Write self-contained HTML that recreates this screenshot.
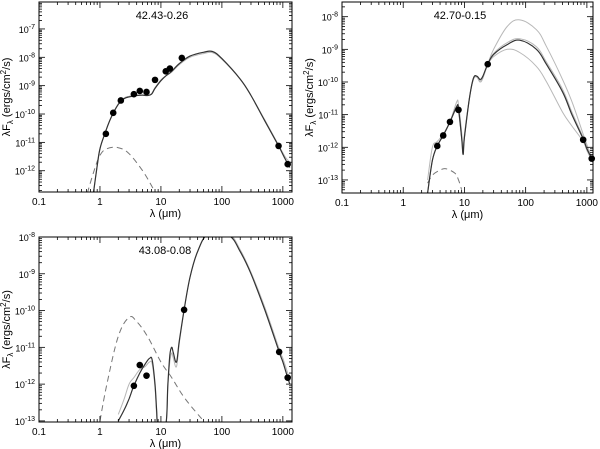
<!DOCTYPE html>
<html><head><meta charset="utf-8">
<style>
html,body{margin:0;padding:0;background:#fff;}
svg{display:block;font-family:"Liberation Sans",sans-serif;}
</style></head>
<body>
<svg id="c" width="600" height="449"></svg>
<script>
// ---------- Panel 1: 42.43-0.26 ----------
const p1PointWl = [1.25,1.65,2.2,3.6,4.5,5.8,8,12,14,22,850,1200];
const p1PointFlux = [2e-11,1.1e-10,3e-10,5e-10,6.5e-10,6e-10,1.6e-9,3.2e-9,4e-9,9.5e-9,7.5e-12,1.7e-12];
const p1ModelWl = [0.78,0.9,1.0,1.2,1.5,2,2.5,3,4,5,6,7,8,10,12,15,20,30,50,70,100,200,300,500,850,1100,1300];
const p1ModelFlux = [1.6e-13,1.5e-12,6e-12,2e-11,7e-11,2.2e-10,3.5e-10,4e-10,4.5e-10,4.6e-10,4.5e-10,5e-10,8e-10,1.5e-9,2.2e-9,3.2e-9,6e-9,1.1e-8,1.5e-8,1.6e-8,9e-9,1.7e-9,4.5e-10,6e-11,7.5e-12,2.5e-12,1.3e-12];
const p1Model2Flux = [1.6e-13,1.5e-12,6e-12,2e-11,7e-11,2.3e-10,3.7e-10,4.2e-10,4.7e-10,4.8e-10,4.7e-10,5.2e-10,8.5e-10,1.6e-9,2.2e-9,3.0e-9,5.5e-9,1.0e-8,1.35e-8,1.45e-8,8.5e-9,1.7e-9,4.5e-10,6.5e-11,8e-12,3e-12,2e-12];
const p1StarWl = [0.62,0.8,1,1.3,2,3,5,7,8];
const p1StarFlux = [1.6e-13,1e-12,3.5e-12,6e-12,6.5e-12,4e-12,1e-12,3e-13,1.7e-13];

// ---------- Panel 2: 42.70-0.15 ----------
const p2PointWl = [3.6,4.5,5.8,8,24,870,1200];
const p2PointFlux = [1.1e-12,2.3e-12,6e-12,1.4e-11,3.5e-10,1.7e-12,4.5e-13];
const p2ModelWl = [2.5,3,3.6,4.5,5.8,7.5,8,9,9.5,10,12,14,16,18,20,24,30,50,80,150,220,400,570,870,1000,1200,1300];
const p2ModelFlux = [4e-14,4e-13,1.1e-12,2.3e-12,6e-12,1.8e-11,1.5e-11,2e-12,6e-13,2e-12,3e-11,1.3e-10,1.5e-10,1.2e-10,1.5e-10,3.5e-10,7e-10,1.4e-9,1.9e-9,1e-9,3.4e-10,5e-11,1e-11,1.8e-12,9e-13,4.5e-13,3e-13];
const p2HighFlux = [4e-14,4e-13,1.1e-12,2.3e-12,6e-12,2.5e-11,2e-11,3e-12,8e-13,2e-12,3e-11,1.2e-10,1.4e-10,1e-10,1.3e-10,3.5e-10,1e-9,5e-9,8e-9,4e-9,1.2e-9,1.2e-10,2.5e-11,2.5e-12,1.2e-12,5e-13,4e-13];
const p2LowFlux = [1e-13,1e-12,1.5e-12,2.5e-12,6e-12,1.6e-11,1.2e-11,2e-12,8e-13,2.5e-12,3e-11,1.2e-10,1.4e-10,1e-10,1.4e-10,3.3e-10,6e-10,1e-9,8e-10,3e-10,1e-10,1.2e-11,4.5e-12,1.5e-12,8e-13,4e-13,3e-13];
const p2MidFlux = [4e-14,4e-13,1.1e-12,2.3e-12,6e-12,1.8e-11,1.5e-11,2e-12,6e-13,2e-12,3e-11,1.3e-10,1.5e-10,1.1e-10,1.4e-10,3.5e-10,7.5e-10,1.6e-9,2.1e-9,1.2e-9,4e-10,6e-11,1.2e-11,2e-12,1e-12,5e-13,3e-13];
const p2StarWl = [2.5,3,4,5,7,8,9];
const p2StarFlux = [8e-14,1.4e-13,2e-13,2.2e-13,1.6e-13,1e-13,5e-14];

// ---------- Panel 3: 43.08-0.08 ----------
const p3PointWl = [3.6,4.5,5.8,24,870,1200];
const p3PointFlux = [9e-13,3.3e-12,1.7e-12,1.05e-10,7.5e-12,1.5e-12];
const p3ModelWl = [2,2.5,3,3.6,4.5,5.5,6.5,7.2,8,8.5,9,12,13,14,15,16,18,20,24,30,40,60,130,200,300,500,870,1000,1200,1300];
const p3ModelFlux = [1e-13,2e-13,4e-13,9e-13,2e-12,3.5e-12,5e-12,4.5e-12,1e-12,2e-13,8e-14,8e-14,1e-12,6e-12,1e-11,7e-12,4e-12,1.5e-11,1.05e-10,8e-10,4e-9,1.2e-8,1.1e-8,4e-9,1e-9,1.1e-10,7.5e-12,4e-12,1.5e-12,1e-12];
const p3GreyFlux = [1.5e-13,4e-13,1e-12,1.5e-12,2.5e-12,3e-12,4e-12,3.5e-12,8e-13,1.5e-13,8e-14,8e-14,1e-12,4e-12,7e-12,5e-12,3e-12,1.3e-11,1e-10,8e-10,4e-9,1.2e-8,1.2e-8,4.5e-9,1.1e-9,1.3e-10,9e-12,5e-12,2e-12,1.2e-12];
const p3StarWl = [1,1.3,2,3,4,6,10,15,25,50];
const p3StarFlux = [1e-13,1e-12,2e-11,6.5e-11,5e-11,2e-11,4e-12,1.5e-12,4e-13,1e-13];

const yTicks1 = [-12,-11,-10,-9,-8,-7];
const yTicks2 = [-13,-12,-11,-10,-9,-8];
const yTicks3 = [-13,-12,-11,-10,-9,-8];
const xTickVals = [0.1,1,10,100,1000];
const xTickLabels = ["0.1","1","10","100","1000"];

const NS="http://www.w3.org/2000/svg";
const svg=document.getElementById('c');
function mk(tag,attrs,parent){const e=document.createElementNS(NS,tag);for(const k in attrs)e.setAttribute(k,attrs[k]);(parent||svg).appendChild(e);return e;}

function smoothPath(P){
  let d='M'+P[0][0].toFixed(1)+','+P[0][1].toFixed(1);
  for(let i=0;i<P.length-1;i++){
    const p0=P[Math.max(0,i-1)],p1=P[i],p2=P[i+1],p3=P[Math.min(P.length-1,i+2)];
    const t=0.18;
    const c1=[p1[0]+(p2[0]-p0[0])*t,p1[1]+(p2[1]-p0[1])*t];
    const c2=[p2[0]-(p3[0]-p1[0])*t,p2[1]-(p3[1]-p1[1])*t];
    d+=' C'+c1[0].toFixed(1)+','+c1[1].toFixed(1)+' '+c2[0].toFixed(1)+','+c2[1].toFixed(1)+' '+p2[0].toFixed(1)+','+p2[1].toFixed(1);
  }
  return d;
}

function panel(cfg,id){
  const g=mk('g',{});
  
  
  const {x0,x1,y0,y1,xmin,xmax,ymin,ymax}=cfg;
  const sx=w=>x0+(Math.log10(w)-Math.log10(xmin))/(Math.log10(xmax)-Math.log10(xmin))*(x1-x0);
  const sy=f=>y1-(Math.log10(f)-ymin)/(ymax-ymin)*(y1-y0);
  const clip=mk('clipPath',{id:id+'clip'},g);
  mk('rect',{x:x0,y:y0,width:x1-x0,height:y1-y0},clip);
  const plot=mk('g',{'clip-path':'url(#'+id+'clip)'},g);
  function line(wl,fl,st,name){
    const P=wl.map((w,i)=>[sx(w),sy(fl[i])]);
    const p=mk('path',Object.assign({d:smoothPath(P),fill:'none'},st),plot);
    
    
  }
  (cfg.grey||[]).forEach((s,i)=>line(s[0],s[1],{stroke:'#b8b8b8','stroke-width':1},'grey-model-'+i));
  line(cfg.star[0],cfg.star[1],{stroke:'#777','stroke-width':1,'stroke-dasharray':'6,4'},'stellar-photosphere');
  line(cfg.model[0],cfg.model[1],{stroke:'#333','stroke-width':1.2},'best-fit-model');
  cfg.pts[0].forEach((w,i)=>{
    const c=mk('circle',{cx:sx(w),cy:sy(cfg.pts[1][i]),r:3.3,fill:'#000'},g);
    
    
  });
  const fr=mk('rect',{x:x0,y:y0,width:x1-x0,height:y1-y0,fill:'none',stroke:'#000','stroke-width':1},g);
  
  
  for(let e=-1;e<=3;e++){for(let m=1;m<10;m++){const w=m*Math.pow(10,e);if(w<xmin||w>xmax)continue;const X=sx(w);const L=m==1?6:3;
    mk('line',{x1:X,x2:X,y1:y1,y2:y1-L,stroke:'#000','stroke-width':0.8},g);mk('line',{x1:X,x2:X,y1:y0,y2:y0+L,stroke:'#000','stroke-width':0.8},g);}}
  xTickVals.forEach((v,i)=>{const t=mk('text',{x:sx(v),y:y1+13,'font-size':10,'text-anchor':'middle'},g);t.textContent=xTickLabels[i];
    });
  for(let e=Math.floor(ymin);e<=Math.ceil(ymax);e++){for(let m=1;m<10;m++){const lv=e+Math.log10(m);if(lv<ymin||lv>ymax)continue;const Y=sy(Math.pow(10,lv));const L=m==1?6:3;
    mk('line',{x1:x0,x2:x0+L,y1:Y,y2:Y,stroke:'#000','stroke-width':0.8},g);mk('line',{x1:x1,x2:x1-L,y1:Y,y2:Y,stroke:'#000','stroke-width':0.8},g);}}
  cfg.yt.forEach(e=>{const t=mk('text',{x:x0-4,y:sy(Math.pow(10,e))+4,'font-size':9,'text-anchor':'end'},g);
    t.innerHTML='10<tspan dy="-4" font-size="7">'+e+'</tspan>';
    });
  const tt=mk('text',{x:cfg.tx,y:y0+17,'font-size':11,'text-anchor':'middle'},g);tt.textContent=cfg.title;
  
  const xl=mk('text',{x:(x0+x1)/2,y:y1+25,'font-size':11,'text-anchor':'middle'},g);xl.textContent='λ (μm)';
  
  const yl=mk('text',{x:0,y:0,'font-size':11,'text-anchor':'middle',transform:'translate('+(x0-29)+','+((y0+y1)/2)+') rotate(-90)'},g);
  yl.innerHTML='λF<tspan dy="3" font-size="8">λ</tspan><tspan dy="-3"> (ergs/cm</tspan><tspan dy="-4" font-size="8">2</tspan><tspan dy="4">/s)</tspan>';
  
}

const xmaxAll=Math.pow(10,3.15);
panel({x0:39,x1:292,y0:2,y1:192,xmin:0.1,xmax:xmaxAll,ymin:-12.75,ymax:-6.05,yt:yTicks1,title:'42.43-0.26',tx:162,
  pts:[p1PointWl,p1PointFlux],model:[p1ModelWl,p1ModelFlux],star:[p1StarWl,p1StarFlux],grey:[[p1ModelWl,p1Model2Flux]]},'p1');
panel({x0:342,x1:593,y0:2,y1:193,xmin:0.1,xmax:Math.pow(10,3.1),ymin:-13.4,ymax:-7.55,yt:yTicks2,title:'42.70-0.15',tx:460,
  pts:[p2PointWl,p2PointFlux],model:[p2ModelWl,p2ModelFlux],star:[p2StarWl,p2StarFlux],grey:[[p2ModelWl,p2HighFlux],[p2ModelWl,p2LowFlux],[p2ModelWl,p2MidFlux]]},'p2');
panel({x0:39,x1:292,y0:237,y1:422,xmin:0.1,xmax:xmaxAll,ymin:-13.03,ymax:-8,yt:yTicks3,title:'43.08-0.08',tx:165,
  pts:[p3PointWl,p3PointFlux],model:[p3ModelWl,p3ModelFlux],star:[p3StarWl,p3StarFlux],grey:[[p3ModelWl,p3GreyFlux]]},'p3');
</script>
</body></html>
